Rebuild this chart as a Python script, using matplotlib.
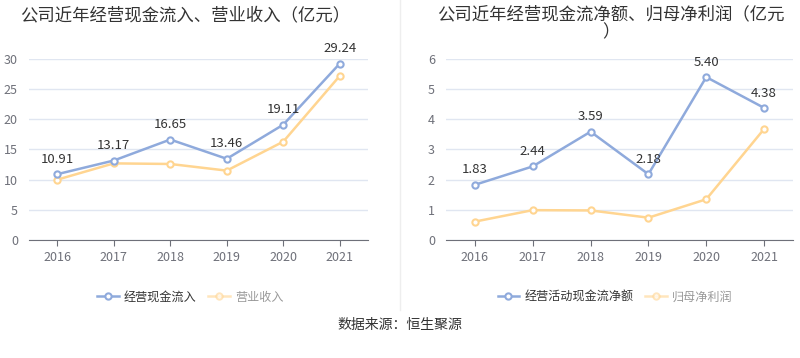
import matplotlib.pyplot as plt

plt.rcParams['font.family'] = ['Noto Sans CJK SC', 'DejaVu Sans']

# Data (亿元)
years = ['2016', '2017', '2018', '2019', '2020', '2021']
cash_in = [10.91, 13.17, 16.65, 13.46, 19.11, 29.24]
revenue = [10.0, 12.7, 12.6, 11.5, 16.3, 27.2]
cash_net = [1.83, 2.44, 3.59, 2.18, 5.40, 4.38]
net_profit = [0.61, 0.99, 0.98, 0.74, 1.35, 3.68]

blue = '#8FAADC'
orange = '#FFD591'
grid_c = '#E0E6F1'
axis_c = '#6E7079'

W, H = 800, 358
fig = plt.figure(figsize=(W / 100, H / 100), dpi=100)


def px_axes(x0, x1, y_top, y_bot):
    return fig.add_axes([x0 / W, 1 - y_bot / H, (x1 - x0) / W, (y_bot - y_top) / H])


def draw(ax, s1, s2, ymax, step, names, legend_x):
    x = range(len(years))
    l1, = ax.plot(x, s1, color=blue, lw=1.8, marker='o', ms=4.5, mfc='white', mew=1.5, zorder=3, label=names[0])
    l2, = ax.plot(x, s2, color=orange, lw=1.8, marker='o', ms=4.5, mfc='white', mew=1.5, zorder=2, label=names[1])
    for i, v in enumerate(s1):
        ax.annotate(f'{v:.2f}', (i, v), xytext=(0, 6), textcoords='offset points',
                    ha='center', va='bottom', fontsize=9.5, color='#333333')
    ax.set_xlim(-0.5, len(years) - 0.5)
    ax.set_ylim(0, ymax)
    ax.set_yticks(range(0, ymax + 1, step))
    ax.set_xticks(list(x))
    ax.set_xticklabels(years)
    ax.grid(axis='y', color=grid_c, lw=1)
    ax.set_axisbelow(True)
    for s in ['top', 'right', 'left']:
        ax.spines[s].set_visible(False)
    ax.spines['bottom'].set_color(axis_c)
    ax.tick_params(axis='x', colors=axis_c, labelsize=9, length=4, pad=4)
    ax.tick_params(axis='y', colors=axis_c, labelsize=9, length=0, pad=8)
    leg = fig.legend(handles=[l1, l2], loc='center', bbox_to_anchor=(legend_x / W, 1 - 297 / H),
                     ncol=2, frameon=False, fontsize=8.7, handlelength=1.8, columnspacing=1.0,
                     handletextpad=0.4)
    leg.get_texts()[0].set_color('#333333')
    leg.get_texts()[1].set_color('#999999')
    leg.legend_handles[1].set_alpha(0.6)


ax1 = px_axes(29, 368, 59, 240)
draw(ax1, cash_in, revenue, 30, 5, ['经营现金流入', '营业收入'], 190)

ax2 = px_axes(446, 793, 59, 240)
draw(ax2, cash_net, net_profit, 6, 1, ['经营活动现金流净额', '归母净利润'], 615)

fig.text(185 / W, 1 - 15 / H, '公司近年经营现金流入、营业收入（亿元）', ha='center', va='center',
         fontsize=12.5, color='#333333')
fig.text(611 / W, 1 - 23 / H, '公司近年经营现金流净额、归母净利润（亿元\n）', ha='center', va='center',
         fontsize=12.5, color='#333333', linespacing=1.0)

fig.add_artist(plt.Line2D([400 / W, 400 / W], [1 - 310 / H, 1.0], color='#EEEEEE', lw=1))

fig.text(400 / W, 1 - 325 / H, '数据来源：恒生聚源', ha='center', va='center', fontsize=10, color='#333333')

fig.savefig('out.png', dpi=100, facecolor='white')
